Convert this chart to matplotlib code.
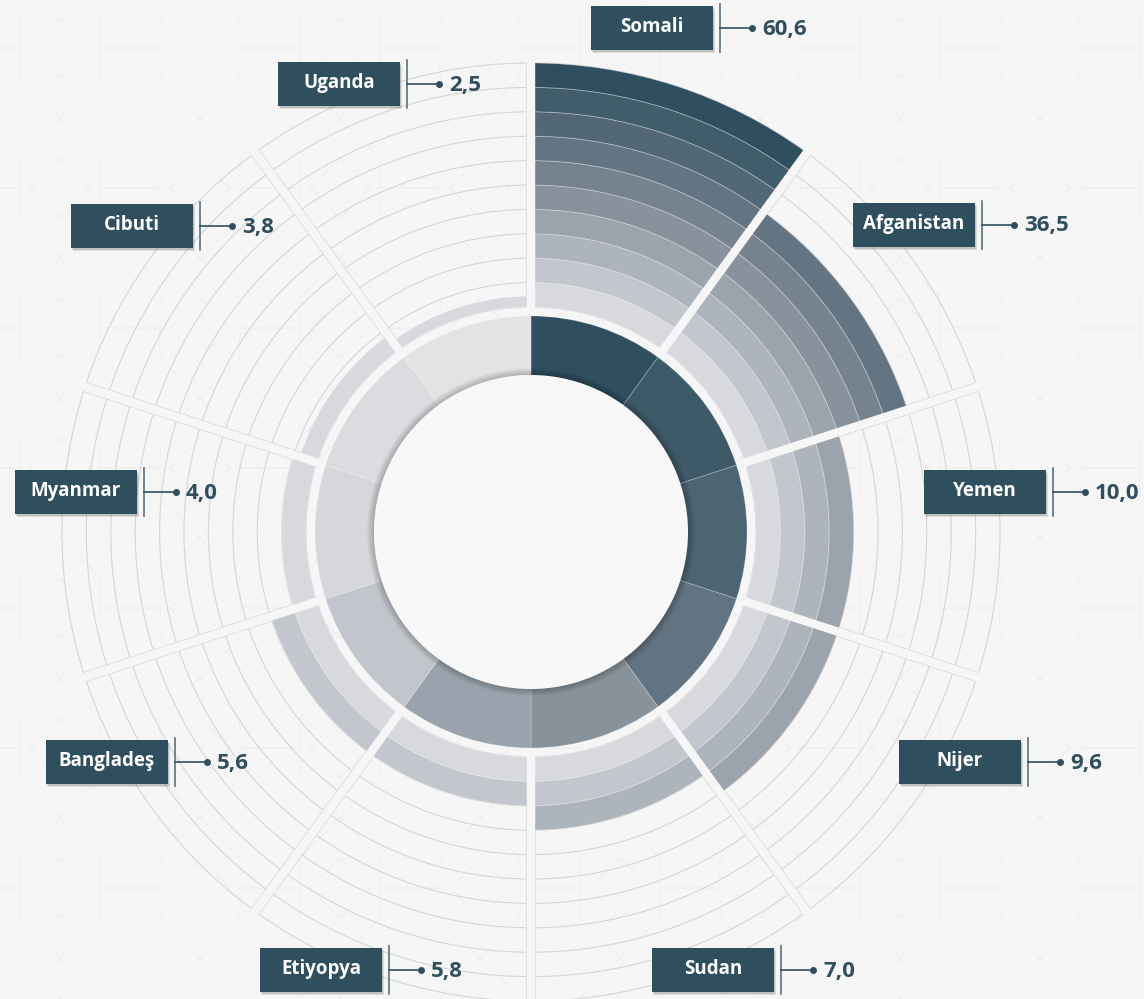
import numpy as np
import matplotlib.pyplot as plt
from matplotlib.patches import Rectangle, Polygon

plt.rcParams["font.family"] = ["Open Sans", "DejaVu Sans"]

# clockwise from 12 o'clock
COUNTRIES = ["Somali", "Afganistan", "Yemen", "Nijer", "Sudan",
             "Etiyopya", "Bangladeş", "Myanmar", "Cibuti", "Uganda"]
VALUES = [60.6, 36.5, 10.0, 9.6, 7.0, 5.8, 5.6, 4.0, 3.8, 2.5]
# how many rings each outer stack reaches
BAND_COUNTS = [10, 7, 4, 4, 3, 2, 2, 1, 0.75, 0.45]

INNER_COLORS = ["#2f4f5f", "#3e5a69", "#4c6573", "#627481", "#87929b",
                "#9aa3ad", "#c2c6cc", "#d5d7db", "#dbdcdf", "#e3e3e3"]
BAND_COLORS = ["#d7d9de", "#c3c7cd", "#aeb4bc", "#9ba3ac", "#88929c",
               "#76838e", "#637583", "#526876", "#415c6a", "#2f4e5f"]

# label box centres (pixels, y down)
LABEL_POS = [(652, 28), (914, 225), (985, 492), (960, 762), (713, 970),
             (321, 970), (107, 762), (76, 492), (132, 226), (339, 84)]

W, H = 1144, 999
CX, CY = 531, 532
R_HOLE = 157
R_RING_IN, R_RING_OUT = 150, 216
R_BANDS = 225
BAND_W = 24.4
N_RINGS = 10
BG = "#f6f6f6"
GRID = "#d5d5d5"
DARK = "#2f4f5f"
PT = 0.72  # one pixel in points at dpi 100


def draw_background(ax):
    # faint tiled ornament behind the chart
    ax.set_xlim(0, W)
    ax.set_ylim(H, 0)
    ax.set_axis_off()
    step = 140
    for gx in range(-1, 10):
        for gy in range(-1, 9):
            x0, y0 = 60 + gx * step, 48 + gy * step
            d = 30
            ax.add_patch(Polygon([(x0 - d, y0), (x0, y0 - d), (x0 + d, y0), (x0, y0 + d)],
                                 closed=True, fill=False, ec="#ededed", lw=0.8))
            ox, oy = x0 + step / 2, y0 + step / 2
            pts = [(ox - 30, oy - 70), (ox + 30, oy - 70), (ox + 30, oy - 40), (ox + 70, oy),
                   (ox + 30, oy + 40), (ox + 30, oy + 70), (ox - 30, oy + 70), (ox - 30, oy + 40),
                   (ox - 70, oy), (ox - 30, oy - 40)]
            ax.add_patch(Polygon(pts, closed=True, fill=False, ec="#efefef", lw=0.8))


def draw_polar(ax):
    ax.set_theta_zero_location("N")
    ax.set_theta_direction(-1)
    ax.set_ylim(0, 480)
    ax.set_axis_off()
    ax.patch.set_alpha(0)

    n = len(COUNTRIES)
    width = 2 * np.pi / n
    centres = np.arange(n) * width + width / 2
    r_outer = R_BANDS + N_RINGS * BAND_W

    # empty ring grid in every sector
    for i in range(n):
        t = np.linspace(i * width, (i + 1) * width, 120)
        for k in range(N_RINGS + 1):
            ax.plot(t, np.full_like(t, R_BANDS + k * BAND_W), color=GRID, lw=0.8, zorder=1)
    for i in range(n):
        ax.plot([i * width] * 2, [R_BANDS, r_outer], color=GRID, lw=10 * PT,
                solid_capstyle="butt", zorder=1.5)
        ax.plot([i * width] * 2, [R_BANDS - 2, r_outer + 1], color=BG, lw=8.4 * PT,
                solid_capstyle="butt", zorder=1.6)

    # outer stacked bands
    for i, count in enumerate(BAND_COUNTS):
        k = 0
        while k < count:
            h = min(1.0, count - k) * BAND_W
            ax.bar(centres[i], h, width=width, bottom=R_BANDS + k * BAND_W,
                   color=BAND_COLORS[k], edgecolor=(1, 1, 1, 0.35), linewidth=0.6, zorder=2)
            k += 1
    for i in range(n):
        ax.plot([i * width] * 2, [R_RING_OUT + 1, r_outer + 1], color=BG, lw=8.4 * PT,
                solid_capstyle="butt", zorder=3)

    # inner ring
    ax.bar(centres, R_RING_OUT - R_RING_IN, width=width, bottom=R_RING_IN,
           color=INNER_COLORS, edgecolor=(1, 1, 1, 0.25), linewidth=0.6, zorder=4)

    # hole with soft shadow
    for d in range(7, 0, -1):
        ax.bar(0, d, width=2 * np.pi, bottom=R_HOLE, color="black",
               alpha=0.03, linewidth=0, zorder=5)
    ax.bar(0, R_HOLE, width=2 * np.pi, bottom=0, color="#f8f8f8", linewidth=0, zorder=6)


def draw_labels(ax):
    ax.set_xlim(0, W)
    ax.set_ylim(H, 0)
    ax.set_axis_off()
    bw, bh = 122, 44
    for name, value, (cx, cy) in zip(COUNTRIES, VALUES, LABEL_POS):
        x0, y0 = cx - bw / 2, cy - bh / 2
        ax.add_patch(Rectangle((x0 + 2, y0 + 3), bw, bh, color="black", alpha=0.10, lw=0))
        ax.add_patch(Rectangle((x0 + 1, y0 + 1.5), bw, bh, color="black", alpha=0.12, lw=0))
        ax.add_patch(Rectangle((x0, y0), bw, bh, color=DARK, lw=0))
        ax.text(cx, cy - 1, name, color="white", fontsize=13.5, fontweight="bold",
                ha="center", va="center")
        xv = x0 + bw + 7
        ax.plot([xv, xv], [y0 - 2, y0 + bh + 2], color="#5b7280", lw=1.2)
        ax.plot([xv, xv + 32], [cy, cy], color=DARK, lw=1.2)
        ax.plot([xv + 32], [cy], "o", color=DARK, ms=4)
        ax.text(xv + 42, cy + 1, f"{value:.1f}".replace(".", ","), color=DARK,
                fontsize=16, fontweight="bold", ha="left", va="center")


def main():
    fig = plt.figure(figsize=(W / 100, H / 100), dpi=100, facecolor=BG)
    bg_ax = fig.add_axes([0, 0, 1, 1], zorder=0)
    draw_background(bg_ax)

    pol = fig.add_axes([(CX - 480) / W, (H - CY - 480) / H, 960 / W, 960 / H],
                       projection="polar", zorder=1)
    draw_polar(pol)

    lab_ax = fig.add_axes([0, 0, 1, 1], zorder=2)
    lab_ax.patch.set_alpha(0)
    draw_labels(lab_ax)

    fig.savefig("out.png", dpi=100, facecolor=BG)
    plt.close(fig)


if __name__ == "__main__":
    main()
